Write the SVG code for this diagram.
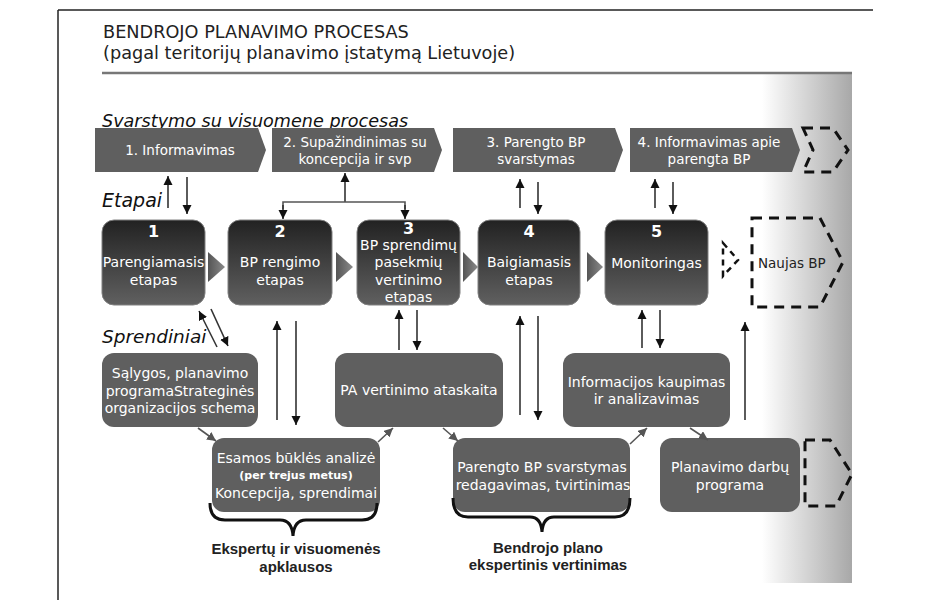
<svg xmlns="http://www.w3.org/2000/svg" width="935" height="610" viewBox="0 0 935 610">
<defs>
<linearGradient id="band" gradientUnits="userSpaceOnUse" x1="762" y1="0" x2="852" y2="0">
<stop offset="0" stop-color="#ffffff"/><stop offset="1" stop-color="#a8a8a8"/>
</linearGradient>
<linearGradient id="etap" x1="0" y1="0" x2="0" y2="1">
<stop offset="0" stop-color="#222222"/><stop offset="1" stop-color="#606060"/>
</linearGradient>
<linearGradient id="tri" x1="0" y1="0" x2="1" y2="0">
<stop offset="0" stop-color="#555555"/><stop offset="1" stop-color="#8a8a8a"/>
</linearGradient>
<marker id="ah" viewBox="0 0 10 10" refX="10" refY="5" markerWidth="9" markerHeight="10" markerUnits="userSpaceOnUse" orient="auto">
<path d="M0,0 L10,5 L0,10 z" fill="#111"/>
</marker>
<marker id="ahg" viewBox="0 0 10 10" refX="10" refY="5" markerWidth="9" markerHeight="9" markerUnits="userSpaceOnUse" orient="auto">
<path d="M0,0 L10,5 L0,10 z" fill="#555"/>
</marker>
</defs>
<style>
.t{font-family:"DejaVu Sans",Verdana,sans-serif;}
.w{fill:#fff;font-size:14px;text-anchor:middle;}
.wt{fill:#fff;font-size:13.5px;text-anchor:middle;}
.num{fill:#fff;font-size:16px;font-weight:bold;text-anchor:middle;}
.lab{font-family:"DejaVu Sans",Verdana,sans-serif;font-style:italic;fill:#111;}
.bl{font-family:"Liberation Sans",Arial,sans-serif;font-weight:bold;font-size:15px;fill:#222;text-anchor:middle;}
.box{fill:#5f5f5f;}
.et{fill:url(#etap);stroke:#808080;stroke-width:1;}
.dash{fill:none;stroke:#111;stroke-width:3;stroke-dasharray:10 7;}
.c{stroke:#333;stroke-width:1.6;fill:none;marker-end:url(#ah);}
.cg{stroke:#555;stroke-width:1.6;fill:none;marker-end:url(#ahg);}
.br{fill:none;stroke:#111;stroke-width:3;}
</style>
<rect x="0" y="0" width="935" height="610" fill="#fff"/>
<rect x="762" y="73" width="90" height="510" fill="url(#band)"/>
<line x1="58" y1="10" x2="873" y2="10" stroke="#222" stroke-width="1.5"/>
<line x1="58" y1="10" x2="58" y2="600" stroke="#222" stroke-width="1.5"/>
<line x1="102" y1="73" x2="852" y2="73" stroke="#777" stroke-width="2.5"/>

<g id="title">
<text class="t" x="103" y="38" font-size="17.7" fill="#222">BENDROJO PLANAVIMO PROCESAS</text>
<text class="t" x="103" y="59" font-size="17.7" fill="#222">(pagal teritorijų planavimo įstatymą Lietuvoje)</text>
<text class="lab" x="102" y="127" font-size="17.6">Svarstymo su visuomene procesas</text>
<text class="lab" x="102" y="207" font-size="19">Etapai</text>
<text class="lab" x="102" y="343" font-size="18.5">Sprendiniai</text>
</g>

<g id="s1"><polygon class="box" points="95,128 258,128 266,150 258,172 95,172"/><text class="t wt" x="180" y="155">1. Informavimas</text></g>
<g id="s2"><polygon class="box" points="272,128 434,128 442,150 434,172 272,172"/><text class="t wt" x="355" y="147">2. Supažindinimas su</text><text class="t wt" x="355" y="164">koncepcija ir svp</text></g>
<g id="s3"><polygon class="box" points="453,128 615,128 623,150 615,172 453,172"/><text class="t wt" x="536" y="147">3. Parengto BP</text><text class="t wt" x="536" y="164">svarstymas</text></g>
<g id="s4"><polygon class="box" points="630,128 792,128 800,150 792,172 630,172"/><text class="t wt" x="709" y="147">4. Informavimas apie</text><text class="t wt" x="709" y="164">parengta BP</text></g>
<g id="s5"><path class="dash" d="M803,128 L833,128 L848,150 L833,172 L803,172 L813,150 Z"/></g>

<g id="e1"><rect class="et" x="102" y="220" width="103" height="85" rx="12"/><text class="t num" x="153.5" y="237">1</text><text class="t w" x="153.5" y="267">Parengiamasis</text><text class="t w" x="153.5" y="285">etapas</text></g>
<g id="e2"><rect class="et" x="228" y="220" width="104" height="85" rx="12"/><text class="t num" x="280" y="237">2</text><text class="t w" x="280" y="267">BP rengimo</text><text class="t w" x="280" y="285">etapas</text></g>
<g id="e3"><rect class="et" x="357" y="220" width="103" height="85" rx="12"/><text class="t num" x="408.5" y="234" font-size="15">3</text><text class="t w" x="408.5" y="250">BP sprendimų</text><text class="t w" x="408.5" y="267">pasekmių</text><text class="t w" x="408.5" y="285">vertinimo</text><text class="t w" x="408.5" y="302">etapas</text></g>
<g id="e4"><rect class="et" x="478" y="220" width="102" height="85" rx="12"/><text class="t num" x="529" y="237">4</text><text class="t w" x="529" y="267">Baigiamasis</text><text class="t w" x="529" y="285">etapas</text></g>
<g id="e5"><rect class="et" x="605" y="220" width="103" height="85" rx="12"/><text class="t num" x="656.5" y="237">5</text><text class="t w" x="656.5" y="268">Monitoringas</text></g>
<g id="e6"><path d="M723,243 L738,260 L723,276 Z" fill="none" stroke="#111" stroke-width="2.5" stroke-dasharray="6 5"/></g>
<g id="naujas"><path class="dash" d="M752,218 L820,218 L843,262 L820,307 L752,307 Z"/><text class="t" x="758" y="268" font-size="13.5" fill="#222">Naujas BP</text></g>

<g id="tris">
<polygon points="208,252 225,267 208,282" fill="url(#tri)"/>
<polygon points="336,252 353,267 336,282" fill="url(#tri)"/>
<polygon points="463,252 478,267 463,282" fill="url(#tri)"/>
<polygon points="587,252 603,267 587,282" fill="url(#tri)"/>
</g>

<g id="salygos"><rect class="box" x="102" y="353" width="156" height="74" rx="12"/><text class="t w" x="180" y="378">Sąlygos, planavimo</text><text class="t w" x="180" y="396">programaStrateginės</text><text class="t w" x="180" y="413">organizacijos schema</text></g>
<g id="pa"><rect class="box" x="335" y="353" width="168" height="74" rx="12"/><text class="t w" x="419" y="395">PA vertinimo ataskaita</text></g>
<g id="info"><rect class="box" x="563" y="353" width="167" height="74" rx="12"/><text class="t w" x="646.5" y="387">Informacijos kaupimas</text><text class="t w" x="646.5" y="404">ir analizavimas</text></g>
<g id="esamos"><rect class="box" x="212" y="438" width="168" height="74" rx="12"/><text class="t w" x="296" y="463">Esamos būklės analizė</text><text class="t" x="296" y="479" font-size="11" font-weight="bold" fill="#fff" text-anchor="middle">(per trejus metus)</text><text class="t w" x="296" y="498">Koncepcija, sprendimai</text></g>
<g id="parengto"><rect class="box" x="453" y="438" width="177" height="74" rx="12"/><text class="t w" x="542" y="472">Parengto BP svarstymas</text><text class="t w" x="543" y="490">redagavimas, tvirtinimas</text></g>
<g id="planavimo"><rect class="box" x="660" y="438" width="140" height="74" rx="12"/><text class="t w" x="730" y="472">Planavimo darbų</text><text class="t w" x="730" y="490">programa</text></g>
<g id="dash3"><path class="dash" d="M805,440 L830,440 L852,474 L836,506 L805,506 Z"/></g>

<g id="brace1"><path class="br" d="M210,503 Q210,520 225,520 L280,520 Q292,520 293,536 Q294,520 306,520 L362,520 Q377,520 377,503"/><text class="bl" x="296" y="554">Ekspertų ir visuomenės</text><text class="bl" x="296" y="572">apklausos</text></g>
<g id="brace2"><path class="br" d="M453,498 Q453,517 468,517 L530,517 Q541,517 542,532 Q543,517 554,517 L615,517 Q630,517 630,498"/><text class="bl" x="548" y="553">Bendrojo plano</text><text class="bl" x="548" y="570">ekspertinis vertinimas</text></g>

<g id="connectors">
<line class="c" x1="168" y1="208" x2="168" y2="176"/>
<line class="c" x1="187" y1="177" x2="187" y2="214"/>
<line class="c" x1="520" y1="208" x2="520" y2="179"/>
<line class="c" x1="538" y1="182" x2="538" y2="214"/>
<line class="c" x1="655" y1="208" x2="655" y2="179"/>
<line class="c" x1="673" y1="182" x2="673" y2="214"/>
<line class="c" x1="345" y1="202" x2="345" y2="173"/>
<polyline points="283,209 283,202 405,202 405,209" fill="none" stroke="#555" stroke-width="1.6"/>
<line class="c" x1="283" y1="205" x2="283" y2="219"/>
<line class="c" x1="405" y1="205" x2="405" y2="219"/>
<line class="c" x1="217" y1="347" x2="199" y2="311"/>
<line class="c" x1="211" y1="309" x2="228" y2="346"/>
<line class="c" x1="277" y1="420" x2="277" y2="321"/>
<line class="c" x1="296" y1="321" x2="296" y2="425"/>
<line class="c" x1="399" y1="350" x2="399" y2="310"/>
<line class="c" x1="417" y1="310" x2="417" y2="350"/>
<line class="c" x1="520" y1="415" x2="520" y2="316"/>
<line class="c" x1="538" y1="316" x2="538" y2="420"/>
<line class="c" x1="642" y1="348" x2="642" y2="310"/>
<line class="c" x1="660" y1="310" x2="660" y2="348"/>
<line class="c" x1="745" y1="420" x2="745" y2="322"/>
<line class="cg" x1="198" y1="428" x2="216" y2="441"/>
<line class="cg" x1="378" y1="442" x2="393" y2="428"/>
<line class="cg" x1="443" y1="428" x2="458" y2="441"/>
<line class="cg" x1="630" y1="444" x2="647" y2="428"/>
<line class="cg" x1="690" y1="428" x2="708" y2="440"/>
</g>
</svg>
